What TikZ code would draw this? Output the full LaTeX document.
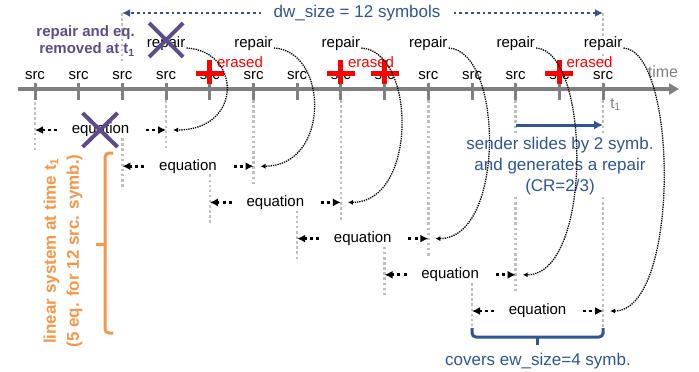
\documentclass[tikz,border=0pt]{standalone}
\usepackage{fontspec}
\setmainfont{Liberation Sans}
\usetikzlibrary{positioning,arrows.meta,calc}
\definecolor{wBlue}{HTML}{2F5597}
\definecolor{wPurple}{HTML}{5F4B8B}
\definecolor{wOrange}{HTML}{F79646}
\definecolor{wRed}{HTML}{FF0000}
\definecolor{wAxis}{HTML}{808080}
\definecolor{wGuide}{HTML}{BFBFBF}
\newcommand{\pxfont}{\fontsize{15}{17}\selectfont}
\newcommand{\pxbig}{\fontsize{17}{21}\selectfont}
\tikzset{
  lbl/.style={font=\pxfont, inner sep=1pt},
  erasedlbl/.style={lbl, text=wRed, anchor=west},
  bluelbl/.style={font=\pxbig, text=wBlue, inner sep=1pt},
  tickmark/.style={draw=wAxis, line width=3pt},
  axisline/.style={draw=wAxis, line width=3.5pt, -{Triangle[length=10pt,width=11pt]}},
  % light grey dotted verticals that mark where a window starts/ends
  guide/.style={draw=wGuide, line width=2.5pt, dash pattern=on 2.5pt off 2.6pt},
  eqspan/.style={-{Latex[length=8pt,width=8pt]}, line width=2.8pt,
                 dash pattern=on 3pt off 3.2pt},
  dwarrow/.style={eqspan, draw=wBlue, line width=2.8pt, dash pattern=on 2.8pt off 3pt},
  feed/.style={-{Latex[length=5pt,width=5pt]}, line width=1.3pt, densely dotted},
  lost/.style={draw=wRed, line width=5pt},
  drop/.style={draw=wPurple, line width=4pt},
  slide/.style={draw=wBlue, line width=3pt, -{Latex[length=9pt,width=9pt]}},
}

\begin{document}
\begin{tikzpicture}[x=1pt, y=-1pt,
  covbrace/.style={draw=wBlue, line width=3pt, rounded corners=4pt},
  sysbrace/.style={draw=wOrange, line width=3pt, rounded corners=4pt}]
\useasboundingbox (0,0) rectangle (699,372);

%% ── decoding window on top ──────────────────────────────────────────────
\node[bluelbl] (dw) at (357,13) {dw\_size = 12 symbols};
\coordinate (dwl) at (122,13);
\coordinate (dwr) at (603,13);
\draw[dwarrow] ([xshift=-11pt]dw.west) -- (dwl);
\draw[dwarrow] ([xshift=12pt]dw.east) -- (dwr);
\draw[guide] (dwl) -- ++(0,50);
\draw[guide] (dwr) -- ++(0,50);

%% ── the time axis with its source symbols ───────────────────────────────
\draw[axisline] (18,89) -- (679,89);
\foreach \i in {0,...,13} {
  \coordinate (k\i) at ({35+43.7*\i},89);
  \draw[tickmark] ([yshift=6pt]k\i) -- ([yshift=-11pt]k\i);
  \node[lbl] (s\i) at ({35+43.7*\i},76) {src};
}
\node[lbl, text=wAxis, font=\fontsize{16}{18}\selectfont] (time) at (663,72) {time};
\node[lbl, text=wAxis, anchor=west] (tone) at ($(k13)+(6,16)$) {t\textsubscript{1}};

%% erased symbols
\foreach \i in {4,7,12}
  \node[erasedlbl] (er\i) at ([xshift=6pt,yshift=14pt]s\i.center) {erased};
\foreach \i in {4,7,8,12} {
  \draw[lost] ([yshift=16pt]s\i.center) -- ([yshift=-8pt]s\i.center);
  \draw[lost] ([xshift=-14pt,yshift=3pt]s\i.center) -- ([xshift=14pt,yshift=3pt]s\i.center);
}

%% ── one repair and one equation every 2 source symbols ──────────────────
\foreach \j [evaluate=\j as \l using int(2*\j),
             evaluate=\j as \r using int(2*\j+3)] in {0,...,5} {
  \node[lbl] (eq\j) at ({35+43.7*(2*\j+1.5)},{130+36.2*\j}) {equation};
  \draw[guide] ($(k\l |- eq\j)+(0,-28)$) -- ($(k\l |- eq\j)+(0,23)$);
  \draw[guide] ($(k\r)+(0,11)$) -- ($(k\r |- eq\j)+(0,18)$);
  \draw[eqspan] ($(k\l |- eq\j)+(22,0)$) -- (k\l |- eq\j);
  \draw[eqspan] ($(k\r |- eq\j)+(-20,0)$) -- (k\r |- eq\j);
  \node[lbl, fill=white] (rp\j) at ({35+43.7*\r},44) {repair};
}

%% sliding of the sender
\coordinate (sl0) at ($(k11)+(0,36)$);
\coordinate (sl1) at ($(k13)+(0,36)$);
\draw[slide] (sl0) -- (sl1);
\node[bluelbl, align=center, fill=white] (slidetxt) at (560,166)
  {sender slides by 2 symb.\\and generates a repair\\(CR=2/3)};

%% each repair feeds the equation that ends under it
\foreach \j [evaluate=\j as \r using int(2*\j+3)] in {0,...,5}
  \draw[feed] ([yshift=-4pt]rp\j.east) .. controls +(55,3) and +(70,0)
    .. ($(k\r |- eq\j)+(7,0)$);

%% ── what is dropped at t1 ───────────────────────────────────────────────
\node[font=\bfseries\fontsize{15}{17}\selectfont, text=wPurple, align=right,
      anchor=east, inner sep=1pt] (gone) at (136,41)
  {repair and eq.\\removed at t\textsubscript{1}};
\draw[drop] ($(rp0.center)+(-17,-21)$) -- ($(rp0.center)+(17,13)$);
\draw[drop] ($(rp0.center)+(-17,13)$) -- ($(rp0.center)+(17,-21)$);
\draw[drop] ($(eq0.center)+(-18,-17)$) -- ($(eq0.center)+(17,17)$);
\draw[drop] ($(eq0.center)+(-18,17)$) -- ($(eq0.center)+(17,-17)$);

%% ── the two braces ──────────────────────────────────────────────────────
\coordinate (cv0) at ($(k10 |- eq5)+(0,17)$);
\coordinate (cv1) at ($(k13 |- eq5)+(0,17)$);
\draw[covbrace] (cv0) |- ($(cv1)+(0,9)$) -- (cv1);
\draw[covbrace] ($($(cv0)!0.5!(cv1)$)+(0,8)$) -- ++(0,9);
\node[bluelbl] (cov) at (538,361) {covers ew\_size=4 symb.};

\coordinate (ls0) at (113,153);
\coordinate (ls1) at (113,333);
\draw[sysbrace] (ls0) -- ++(-8,0) |- (ls1);
\draw[sysbrace] ($($(ls0)!0.5!(ls1)$)+(-7,1)$) -- ++(-10,0);
\node[font=\bfseries\fontsize{17}{23}\selectfont, text=wOrange, align=center,
      rotate=90, inner sep=1pt] (sys) at (63,251)
  {linear system at time t\textsubscript{1}\\(5 eq. for 12 src. symb.)};

\end{tikzpicture}
\end{document}
